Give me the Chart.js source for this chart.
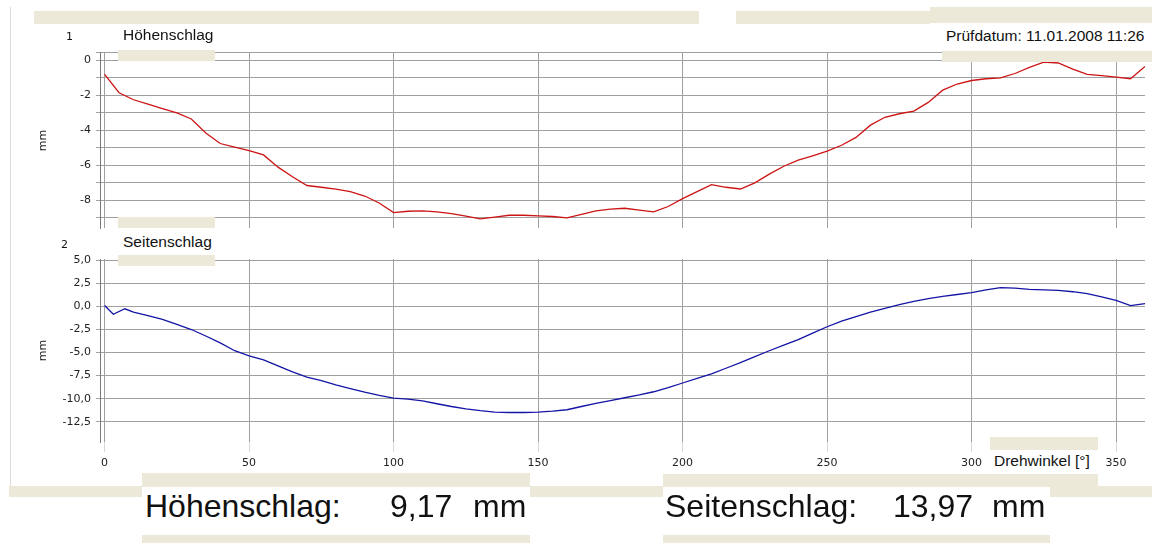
<!DOCTYPE html>
<html>
<head>
<meta charset="utf-8">
<script src="https://cdn.jsdelivr.net/npm/chart.js@4.4.1/dist/chart.umd.min.js"></script>
<style>
  html, body { margin:0; padding:0; background:#fff; width:1152px; height:543px; overflow:hidden; }
  canvas { position:absolute; left:0; }
  .bg { position:absolute; background:#ece9d8; z-index:2; }
  .wb { position:absolute; background:#fff; z-index:2; }
  .t { position:absolute; z-index:3; font-family:"Liberation Sans", Arial, sans-serif; color:#111; white-space:nowrap; }
  .s { font-size:15.5px; line-height:15.5px; }
  .b { font-size:32px; line-height:32px; }
  .n { font-family:"DejaVu Sans", sans-serif; font-size:11px; line-height:11px; }
</style>
</head>
<body>
<canvas id="c1" width="1152" height="240" style="top:0;width:1152px;height:240px"></canvas>
<canvas id="c2" width="1152" height="240" style="top:240px;width:1152px;height:240px"></canvas>

<div style="position:absolute;left:10px;top:7px;width:1px;height:483px;background:#dcdcdc;z-index:1"></div>

<div class="bg" style="left:34px;top:11px;width:665px;height:13px"></div>
<div class="bg" style="left:736px;top:11px;width:194px;height:13px"></div>
<div class="bg" style="left:930px;top:7px;width:222px;height:16px"></div>
<div class="wb" style="left:942px;top:23px;width:210px;height:28px"></div>
<div class="bg" style="left:942px;top:51px;width:210px;height:11px"></div>
<div class="t s" style="left:946px;top:28px">Prüfdatum: 11.01.2008 11:26</div>

<div class="t n" style="left:66px;top:31px">1</div>
<div class="t s" style="left:123px;top:27px">Höhenschlag</div>
<div class="bg" style="left:118px;top:50px;width:97px;height:11px"></div>

<div class="bg" style="left:118px;top:217px;width:97px;height:11px"></div>
<div class="wb" style="left:118px;top:228px;width:97px;height:27px"></div>
<div class="bg" style="left:118px;top:255px;width:97px;height:11px"></div>
<div class="t s" style="left:123px;top:234px">Seitenschlag</div>
<div class="t n" style="left:61px;top:239px">2</div>

<div class="bg" style="left:990px;top:437px;width:108px;height:13px"></div>
<div class="wb" style="left:990px;top:450px;width:108px;height:24px"></div>
<div class="bg" style="left:990px;top:474px;width:108px;height:23px"></div>
<div class="t s" style="left:994px;top:453px">Drehwinkel [°]</div>

<div class="bg" style="left:9px;top:486px;width:1143px;height:11px;z-index:1"></div>

<div class="bg" style="left:142px;top:473px;width:388px;height:14px"></div>
<div class="wb" style="left:142px;top:487px;width:388px;height:48px"></div>
<div class="bg" style="left:142px;top:535px;width:388px;height:8px"></div>
<div class="t b" style="left:145px;top:490px">Höhenschlag:</div>
<div class="t b" style="left:390px;top:490px">9,17</div>
<div class="t b" style="left:473px;top:490px">mm</div>

<div class="bg" style="left:663px;top:474px;width:387px;height:13px"></div>
<div class="wb" style="left:663px;top:487px;width:387px;height:48px"></div>
<div class="bg" style="left:663px;top:535px;width:387px;height:8px"></div>
<div class="t b" style="left:665px;top:490px">Seitenschlag:</div>
<div class="t b" style="left:893px;top:490px">13,97</div>
<div class="t b" style="left:992px;top:490px">mm</div>

<script>
// ---- data ----
const anglesTop = [0,5,10,15,20,25,30,35,40,45,50,55,60,65,70,75,80,85,90,95,100,105,110,115,120,125,130,135,140,145,150,155,160,165,170,175,180,185,190,195,200,205,210,215,220,225,230,235,240,245,250,255,260,265,270,275,280,285,290,295,300,305,310,315,320,325,330,335,340,345,350,355,360];
const hoehenschlag = [-0.8,-1.85,-2.25,-2.5,-2.75,-3.0,-3.35,-4.15,-4.75,-4.95,-5.15,-5.4,-6.1,-6.65,-7.15,-7.25,-7.35,-7.5,-7.75,-8.15,-8.7,-8.62,-8.6,-8.65,-8.75,-8.9,-9.05,-8.95,-8.85,-8.85,-8.88,-8.92,-9.0,-8.8,-8.6,-8.5,-8.45,-8.55,-8.66,-8.35,-7.9,-7.5,-7.1,-7.25,-7.35,-7.0,-6.5,-6.05,-5.7,-5.45,-5.18,-4.85,-4.4,-3.7,-3.25,-3.05,-2.9,-2.4,-1.7,-1.35,-1.15,-1.05,-1.0,-0.75,-0.4,-0.1,-0.15,-0.5,-0.8,-0.87,-0.96,-1.05,-0.35];
const anglesBottom = [0,3,7,10,15,20,25,30,35,40,45,50,55,60,65,70,75,80,85,90,95,100,105,110,115,120,125,130,135,140,145,150,155,160,165,170,175,180,185,190,195,200,205,210,215,220,225,230,235,240,245,250,255,260,265,270,275,280,285,290,295,300,305,310,315,320,325,330,335,340,345,350,355,360];
const seitenschlag = [0.1,-0.85,-0.25,-0.6,-1.0,-1.4,-1.95,-2.5,-3.2,-3.95,-4.8,-5.35,-5.8,-6.45,-7.1,-7.65,-8.05,-8.5,-8.9,-9.3,-9.65,-9.95,-10.05,-10.25,-10.55,-10.85,-11.1,-11.3,-11.45,-11.5,-11.5,-11.45,-11.35,-11.2,-10.85,-10.5,-10.2,-9.9,-9.6,-9.25,-8.8,-8.3,-7.8,-7.3,-6.7,-6.1,-5.45,-4.8,-4.2,-3.6,-2.9,-2.2,-1.6,-1.1,-0.6,-0.2,0.2,0.55,0.85,1.1,1.3,1.5,1.8,2.05,2.0,1.85,1.8,1.75,1.6,1.4,1.05,0.65,0.1,0.3];
const xTickValues = [0,50,100,150,200,250,300,350];
const yTicksTop = [0.45,0,-1,-2,-3,-4,-5,-6,-7,-8,-9];
const yTickLabelsTop = [0,-2,-4,-6,-8];
const yTicksBottom = [5,2.5,0,-2.5,-5,-7.5,-10,-12.5];

Chart.defaults.font.family = '"DejaVu Sans", sans-serif';
Chart.defaults.font.size = 11;
Chart.defaults.color = '#222';

const GRID = 'rgb(160,160,160)';

function pts(angles, vals) { return angles.map((a, i) => ({x: a, y: vals[i]})); }

function makeChart(id, angles, vals, color, yMin, yMax, yTicks, yLabel, bottomAxis, pad) {
  return new Chart(document.getElementById(id), {
    type: 'line',
    data: { datasets: [{ data: pts(angles, vals), borderColor: color, borderWidth: 1.3, pointRadius: 0, tension: 0, fill: false }] },
    options: {
      responsive: false, animation: false, devicePixelRatio: 1,
      layout: { padding: pad },
      plugins: { legend: { display: false }, tooltip: { enabled: false } },
      scales: {
        x: {
          type: 'linear', min: -1.6, max: 360,
          afterBuildTicks: s => { s.ticks = xTickValues.map(v => ({value: v})); },
          afterFit: s => { s.height = bottomAxis ? 30 : 0; },
          border: { display: false },
          grid: { color: GRID, lineWidth: 1, drawTicks: bottomAxis, tickLength: 10, tickColor: 'rgb(215,215,215)' },
          ticks: { display: bottomAxis, autoSkip: false, maxRotation: 0, padding: 5, callback: v => String(v) }
        },
        y: {
          type: 'linear', min: yMin, max: yMax,
          afterBuildTicks: s => { s.ticks = yTicks.map(v => ({value: v})); },
          afterFit: s => { s.width = 100; },
          border: { display: true, color: 'rgb(120,120,120)', width: 1 },
          grid: { color: GRID, lineWidth: 1, drawTicks: true, tickLength: 4 },
          title: { display: true, text: 'mm', font: { size: 11 }, padding: { top: 37, bottom: 0 } },
          ticks: { autoSkip: false, padding: 5, callback: yLabel }
        }
      }
    }
  });
}

makeChart('c1', anglesTop, hoehenschlag, 'rgb(205,20,20)', -9.6, 0.45, yTicksTop,
  v => yTickLabelsTop.includes(v) ? String(v) : '',
  false, { top: 52.5, right: 7, bottom: 7, left: 0 });

makeChart('c2', anglesBottom, seitenschlag, 'rgb(20,20,165)', -14.7, 5.15, yTicksBottom,
  v => v.toFixed(1).replace('.', ','),
  true, { top: 19, right: 7, bottom: 8, left: 0 });
</script>
</body>
</html>
